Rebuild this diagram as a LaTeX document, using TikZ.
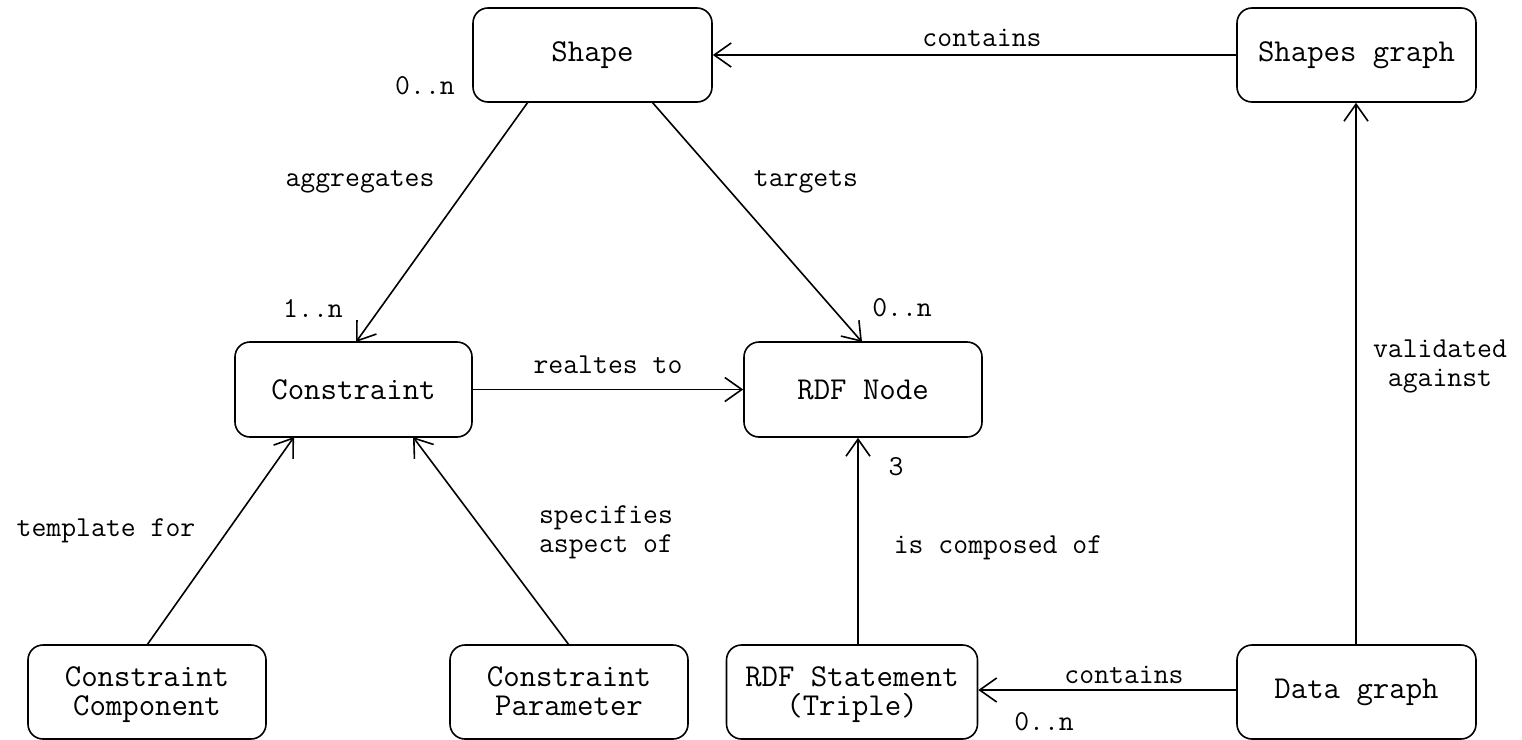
\documentclass[tikz,border=0pt]{standalone}
\usepackage{fontspec}
\usetikzlibrary{arrows.meta}
\newcommand\firstline{\rule{0pt}{27bp}}
\tikzset{
  box/.style={draw, line width=1.6bp, rounded corners=15bp, inner sep=0pt,
    font=\fontsize{32}{30}\selectfont\ttfamily, align=center},
  lab/.style={inner sep=0pt, font=\fontsize{29}{29.5}\selectfont\ttfamily, align=center},
  arr/.style={line width=1.6bp, -{Straight Barb[length=17bp, width=24bp, line width=1.6bp]}},
}
\begin{document}
\begin{tikzpicture}[x=1bp, y=-1bp]
\useasboundingbox[fill=white] (0,0) rectangle (1522,740);

% entities
\node[box, minimum width=239bp, minimum height=94bp] (shape) at (592.5,55) {Shape};
\node[box, minimum width=239bp, minimum height=94bp] (sg) at (1356.5,55) {Shapes graph};
\node[box, minimum width=237bp, minimum height=95bp] (con) at (353.5,389.5) {Constraint};
\node[box, minimum width=238bp, minimum height=95bp] (rdfn) at (863,389.5) {RDF Node};
\node[box, minimum width=238bp, minimum height=94bp] (cc) at (147,692) {\firstline Constraint\\\strut Component};
\node[box, minimum width=238bp, minimum height=94bp] (cp) at (569,692) {\firstline Constraint\\\strut Parameter};
\node[box, minimum width=251bp, minimum height=94bp] (st) at (852,692) {\firstline RDF Statement\\\strut (Triple)};
\node[box, minimum width=239bp, minimum height=94bp] (dg) at (1356.5,692) {Data graph};

% anchor points on the box borders
\coordinate (shapeL) at (528,102);
\coordinate (shapeR) at (652,102);
\coordinate (conT) at (356,342);
\coordinate (rdfT) at (862,342);
\coordinate (conBL) at (294,437);
\coordinate (conBR) at (413,437);
\coordinate (ccT) at (147,645);
\coordinate (cpT) at (569,645);

% relations
\draw[arr] (sg.west) -- (shape.east);
\draw[arr] (shapeL) -- (conT);
\draw[arr] (shapeR) -- (rdfT);
\draw[arr] (con.east) -- (rdfn.west);
\draw[arr] (ccT) -- (conBL);
\draw[arr] (cpT) -- (conBR);
\draw[arr] (st.north -| 858,0) -- (rdfn.south -| 858,0);
\draw[arr] (dg.west |- 0,690) -- (st.east |- 0,690);
\draw[arr] (dg.north -| 1356,0) -- (sg.south -| 1356,0);

% labels
\node[lab] (l1) at (982,38) {contains};
\node[lab] (l2) at (425,86) {0..n};
\node[lab] (l3) at (360,182) {aggregates};
\node[lab] (l4) at (806,182) {targets};
\node[lab] (l5) at (313,308) {1..n};
\node[lab] (l6) at (902,308) {0..n};
\node[lab] (l7) at (608,365) {realtes to};
\node[lab] (l8) at (1440,366) {\strut validated\\\strut against};
\node[lab] (l9) at (896,467) {3};
\node[lab] (l10) at (106,531) {template for};
\node[lab] (l11) at (606,532) {\strut specifies\\\strut aspect of};
\node[lab] (l12) at (998,548) {is composed of};
\node[lab] (l13) at (1124,675) {contains};
\node[lab] (l14) at (1044,722) {0..n};
\end{tikzpicture}
\end{document}
